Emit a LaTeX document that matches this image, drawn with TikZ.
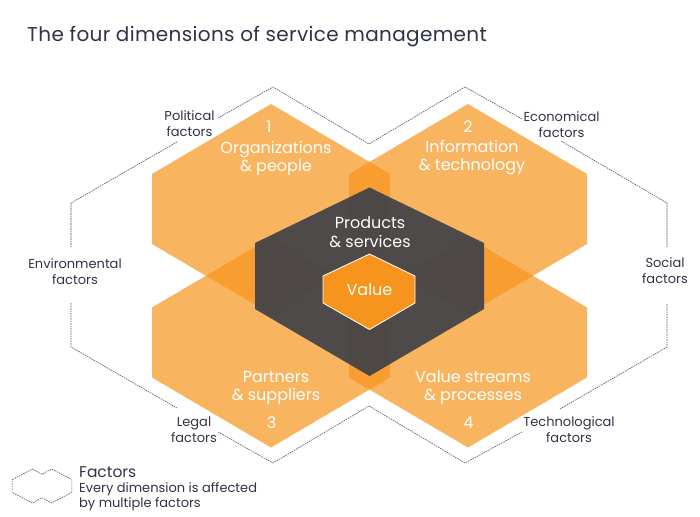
\documentclass[tikz,border=0pt]{standalone}
\usepackage{fontspec}
\setmainfont{Poppins}
\definecolor{navy}{HTML}{2F3347}
\definecolor{itorange}{HTML}{F7941D}
\definecolor{darkhex}{HTML}{414248}
\begin{document}
\begin{tikzpicture}[x=1pt,y=-1pt,
  dim/.style={fill=itorange, fill opacity=0.7, draw=none},
  core/.style={fill=darkhex, fill opacity=0.93, draw=none},
  valuehex/.style={fill=itorange, draw=white, line width=0.8pt},
  factorline/.style={draw=navy!85, line width=0.6pt, dash pattern=on 1.6pt off 0.9pt},
  htext/.style={text=white, align=center, font=\fontsize{16}{18}\selectfont, inner sep=0pt},
  flabel/.style={text=navy, align=center, font=\fontsize{13}{16}\selectfont, inner sep=0pt},
]
\useasboundingbox (0,0) rectangle (700,516);

% title
\node[anchor=west, text=navy, inner sep=0pt, font=\fontsize{20}{24}\selectfont\addfontfeatures{LetterSpace=1.7}] (title) at (27,37) {The four dimensions of service management};

% factor outline
\draw[factorline] (218,118) -- (273,87) -- (369,144) -- (465,87) -- (522,119);
\draw[factorline] (177,142) -- (71,203) -- (71,247);
\draw[factorline] (71,303) -- (71,347) -- (177,408);
\draw[factorline] (218,432) -- (273,463) -- (369,406) -- (465,463) -- (522,432);
\draw[factorline] (560,409) -- (667,347) -- (667,303);
\draw[factorline] (667,247) -- (667,203) -- (561,141);

% four dimension hexagons
\path[dim] (271,104) -- (390,174) -- (390,244) -- (271,314) -- (152,244) -- (152,174) -- cycle;
\path[dim] (468,104) -- (587,174) -- (587,244) -- (468,314) -- (349,244) -- (349,174) -- cycle;
\path[dim] (271,237.5) -- (390,307.5) -- (390,377.5) -- (271,447.5) -- (152,377.5) -- (152,307.5) -- cycle;
\path[dim] (468,237.5) -- (587,307.5) -- (587,377.5) -- (468,447.5) -- (349,377.5) -- (349,307.5) -- cycle;

% core hexagon
\path[core] (369.5,187.5) -- (484,243) -- (484,309) -- (369.5,376) -- (255,309) -- (255,243) -- cycle;
% value hexagon
\draw[valuehex] (369.5,254) -- (415,276) -- (415,303) -- (369.5,329.5) -- (323,303) -- (323,276) -- cycle;

% hexagon texts
\node[htext] (n1) at (269,126.5) {1};
\node[htext] (d1) at (276,158) {Organizations\\\& people};
\node[htext] (n2) at (468,126.5) {2};
\node[htext] (d2) at (472,158) {Information\\\& technology};
\node[htext] (d3) at (276,387.5) {Partners\\\& suppliers};
\node[htext] (n3) at (271.5,423) {3};
\node[htext] (d4) at (473,387.5) {Value streams\\\& processes};
\node[htext] (n4) at (468.5,423) {4};
\node[htext, font=\fontsize{16}{19}\selectfont] (ps) at (370,232.5) {Products\\\& services};
\node[htext] (val) at (369.5,290) {Value};

% factor labels
\node[flabel] (pol) at (189.5,124) {Political\\factors};
\node[flabel] (eco) at (561.5,124.5) {Economical\\factors};
\node[flabel] (env) at (75,271.5) {Environmental\\factors};
\node[flabel] (soc) at (665,271) {Social\\factors};
\node[flabel] (leg) at (194,430) {Legal\\factors};
\node[flabel] (tec) at (569,430) {Technological\\factors};

% legend
\begin{scope}[shift={(42,486)}, xscale=0.1, yscale=0.09]
\draw[factorline] (-298,-72) -- (-96,-188) -- (0,-131) -- (96,-188) -- (298,-72) -- (298,72) -- (96,188) -- (0,131) -- (-96,188) -- (-298,72) -- cycle;
\end{scope}
\node[anchor=west, text=navy, inner sep=0pt, font=\fontsize{15.5}{18}\selectfont] (lgt) at (79,472) {Factors};
\node[anchor=west, text=navy, inner sep=0pt, align=left, font=\fontsize{13}{15}\selectfont] (lgd) at (79,497) {Every dimension is affected\\by multiple factors};
\end{tikzpicture}
\end{document}
